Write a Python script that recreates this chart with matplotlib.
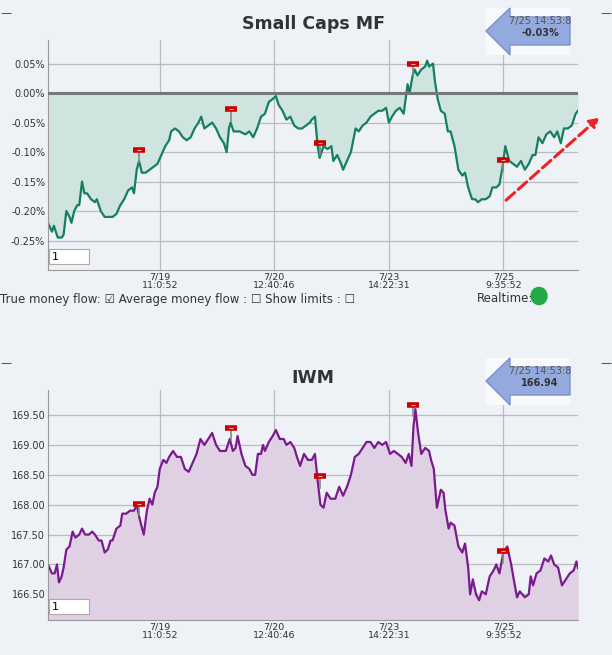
import matplotlib
matplotlib.use("Agg")
import matplotlib.pyplot as plt
from matplotlib.patches import Polygon, Rectangle, Circle, FancyArrowPatch

mf_x = [125,135,140,150,160,165,172,180,185,192,200,205,212,218,225,235,245,250,260,270,280,290,300,310,320,330,340,345,352,358,365,375,385,395,405,415,425,435,440,450,460,470,480,490,500,510,517,525,535,545,555,565,575,582,588,592,600,615,630,640,650,660,670,680,690,700,708,715,725,735,745,755,765,775,785,795,800,808,815,820,830,840,850,855,865,875,880,890,900,912,920,930,940,950,960,970,980,990,997,1005,1015,1025,1035,1045,1050,1058,1063,1070,1080,1090,1095,1100,1110,1115,1122,1130,1140,1148,1155,1165,1175,1185,1192,1200,1210,1218,1225,1235,1245,1255,1262,1272,1280,1288,1295,1305,1315,1325,1335,1345,1355,1365,1372,1380,1390,1400,1410,1420,1428,1437,1445,1455,1465,1475,1481]
mf_y = [-0.22,-0.235,-0.225,-0.245,-0.245,-0.24,-0.20,-0.21,-0.22,-0.20,-0.19,-0.19,-0.15,-0.17,-0.17,-0.18,-0.185,-0.18,-0.20,-0.21,-0.21,-0.21,-0.205,-0.19,-0.18,-0.165,-0.16,-0.17,-0.13,-0.115,-0.135,-0.135,-0.13,-0.125,-0.12,-0.105,-0.09,-0.08,-0.065,-0.06,-0.065,-0.075,-0.08,-0.075,-0.06,-0.05,-0.04,-0.06,-0.055,-0.05,-0.06,-0.075,-0.085,-0.10,-0.06,-0.05,-0.065,-0.065,-0.07,-0.065,-0.075,-0.06,-0.04,-0.035,-0.015,-0.01,-0.005,-0.02,-0.03,-0.045,-0.04,-0.055,-0.06,-0.06,-0.055,-0.05,-0.045,-0.04,-0.09,-0.11,-0.09,-0.095,-0.09,-0.115,-0.105,-0.12,-0.13,-0.115,-0.10,-0.06,-0.065,-0.055,-0.05,-0.04,-0.035,-0.03,-0.03,-0.025,-0.05,-0.04,-0.03,-0.025,-0.035,0.015,0.0,0.03,0.04,0.03,0.04,0.045,0.055,0.045,0.05,0.02,-0.01,-0.03,-0.035,-0.065,-0.065,-0.09,-0.13,-0.14,-0.135,-0.16,-0.18,-0.18,-0.185,-0.18,-0.18,-0.175,-0.16,-0.16,-0.155,-0.125,-0.09,-0.115,-0.12,-0.125,-0.115,-0.13,-0.12,-0.105,-0.105,-0.075,-0.085,-0.07,-0.065,-0.075,-0.065,-0.085,-0.06,-0.06,-0.055,-0.035,-0.03]

iwm_x = [125,135,142,148,153,160,165,172,180,188,195,205,212,220,230,238,245,255,262,270,278,285,290,300,310,315,325,335,345,352,360,370,378,385,392,398,405,411,420,428,435,445,455,465,475,485,495,505,515,525,535,545,555,565,580,590,598,605,610,620,630,640,648,655,662,670,675,680,690,700,708,718,728,735,745,755,762,770,780,790,800,808,815,822,830,838,848,860,870,880,890,900,910,920,930,940,950,960,970,980,990,1000,1010,1020,1030,1040,1048,1055,1060,1065,1072,1080,1090,1100,1105,1112,1120,1130,1137,1142,1150,1155,1165,1175,1185,1192,1200,1205,1212,1220,1228,1235,1245,1255,1265,1272,1280,1290,1300,1310,1318,1325,1332,1345,1355,1360,1366,1375,1385,1395,1405,1412,1420,1430,1440,1450,1460,1470,1477,1481]
iwm_y = [167.0,166.85,166.85,167.0,166.7,166.8,166.95,167.25,167.3,167.55,167.45,167.5,167.6,167.5,167.5,167.55,167.5,167.4,167.4,167.2,167.25,167.4,167.4,167.6,167.65,167.85,167.85,167.9,167.9,168.0,167.75,167.5,167.9,168.1,168.0,168.2,168.3,168.6,168.75,168.7,168.8,168.9,168.8,168.8,168.6,168.55,168.7,168.85,169.1,169.0,169.1,169.2,169.0,168.9,168.9,169.1,168.9,168.95,169.15,168.85,168.65,168.6,168.5,168.5,168.85,168.85,169.0,168.9,169.05,169.15,169.25,169.1,169.1,169.0,169.05,168.95,168.8,168.65,168.85,168.75,168.75,168.85,168.4,168.0,167.95,168.2,168.1,168.1,168.3,168.15,168.3,168.5,168.8,168.85,168.95,169.05,169.05,168.95,169.05,169.0,169.05,168.85,168.9,168.85,168.8,168.7,168.85,168.65,169.3,169.6,169.2,168.85,168.95,168.9,168.75,168.6,167.95,168.25,168.2,167.9,167.6,167.7,167.65,167.3,167.2,167.35,166.95,166.5,166.75,166.5,166.4,166.55,166.5,166.8,166.9,167.0,166.85,167.2,167.3,167.0,166.7,166.45,166.55,166.45,166.5,166.8,166.65,166.85,166.9,167.1,167.05,167.15,167.0,166.95,166.65,166.75,166.85,166.9,167.05,166.94]

tick_pos = [411, 704, 997, 1290]
tick_labels = ["7/19\n11:0:52", "7/20\n12:40:46", "7/23\n14:22:31", "7/25\n9:35:52"]
flag_x = [357, 593, 820, 1060, 1288]
mf_flag_y = [-0.097, -0.027, -0.085, 0.05, -0.113]
iwm_flag_y = [168.02, 169.28, 168.48, 169.67, 167.22]
mf_yticks = [0.05, 0.0, -0.05, -0.10, -0.15, -0.20, -0.25]
iwm_yticks = [169.5, 169.0, 168.5, 168.0, 167.5, 167.0, 166.5]

W, H = 612, 655
BG = "#eef2f6"
fig = plt.figure(figsize=(6.12, 6.55), dpi=100, facecolor=BG)

def fx(p): return p / W
def fy(p): return 1 - p / H

def panel(top, bot, xs, ys, base, ylim, yticks, fmt, lc, fc, fy_, title, title_y, val):
    ax = fig.add_axes([fx(48), fy(bot), fx(530), (bot - top) / H])
    ax.set_facecolor(BG)
    ax.fill_between(xs, ys, base, color=fc, lw=0)
    ax.plot(xs, ys, color=lc, lw=1.6)
    ax.set_xlim(125, 1481)
    ax.set_ylim(*ylim)
    ax.set_yticks(yticks)
    ax.set_yticklabels([fmt(v) for v in yticks], fontsize=7, color="#333")
    ax.set_xticks(tick_pos)
    ax.set_xticklabels(tick_labels, fontsize=6.8, color="#333", linespacing=0.95)
    ax.tick_params(length=0, pad=2)
    ax.grid(True, color="#b8bcc0", lw=0.9)
    ax.set_axisbelow(True)
    for s in ["top", "right"]:
        ax.spines[s].set_visible(False)
    for s in ["left", "bottom"]:
        ax.spines[s].set_color("#999")
    for x, y in zip(flag_x, fy_):
        ax.plot([x, x], [y, y - (ylim[1]-ylim[0]) * 0.05], color="#888", lw=1.2, zorder=4)
        ax.plot([x], [y], marker="_", ms=9, mew=4, color="#cc0000", zorder=5)
        ax.plot([x], [y], marker="_", ms=3, mew=0.8, color="#ffaaaa", zorder=6)
    ax.add_patch(Rectangle((0.002, 0.025), 0.075, 0.065, transform=ax.transAxes,
                           facecolor="white", edgecolor="#aaa", lw=0.8, zorder=6))
    ax.text(0.008, 0.057, "1", transform=ax.transAxes, fontsize=8, va="center", zorder=7)
    fig.text(fx(313), fy(title_y), title, ha="center", va="center", fontsize=12.5,
             fontweight="bold", color="#333")
    t = top - 32
    fig.patches.append(Rectangle((fx(486), fy(t + 47)), 84 / W, 47 / H, transform=fig.transFigure,
                                 facecolor="#f8f9fb", edgecolor="none"))
    pts = [(486, t + 23), (510, t), (510, t + 9), (570, t + 9), (570, t + 37), (510, t + 37), (510, t + 47)]
    fig.patches.append(Polygon([(fx(a), fy(b)) for a, b in pts], closed=True,
                               transform=fig.transFigure, facecolor="#94a9dd", edgecolor="#7a92cc"))
    fig.text(fx(540), fy(t + 13), "7/25 14:53:8", ha="center", va="center", fontsize=7, color="#555")
    fig.text(fx(540), fy(t + 25), val, ha="center", va="center", fontsize=7, color="#333", fontweight="bold")
    fig.text(0, fy(top - 27), "—", fontsize=8, color="#333", va="center")
    fig.text(1, fy(top - 27), "—", fontsize=8, color="#333", va="center", ha="right")
    return ax

ax1 = panel(40, 270, mf_x, mf_y, 0.0, (-0.30, 0.09), mf_yticks,
            lambda v: f"{v:.2f}%", "#14805e", "#cfe3df", mf_flag_y, "Small Caps MF", 24, "-0.03%")
ax1.axhline(0, color="#777", lw=2.2, zorder=3)
ax2 = panel(390, 620, iwm_x, iwm_y, 166.0, (166.07, 169.92), iwm_yticks,
            lambda v: f"{v:.2f}", "#7a1a8e", "#dfd0e4", iwm_flag_y, "IWM", 378, "166.94")

fig.text(0, fy(299), "True money flow: \u2611 Average money flow : \u2610 Show limits : \u2610",
         fontsize=8.5, color="#333", va="center")
fig.text(fx(477), fy(299), "Realtime:", fontsize=8.5, color="#333", va="center")
fig.patches.append(Circle((fx(539), fy(296)), 8 / W, transform=fig.transFigure, color="#22aa44"))
fig.patches.append(FancyArrowPatch((fx(504), fy(202)), (fx(601), fy(116)), transform=fig.transFigure,
                                   arrowstyle="-|>,head_length=5,head_width=3", linestyle="--",
                                   color="#ee2222", lw=2.2))
fig.savefig("out.png", dpi=100, facecolor=BG)
